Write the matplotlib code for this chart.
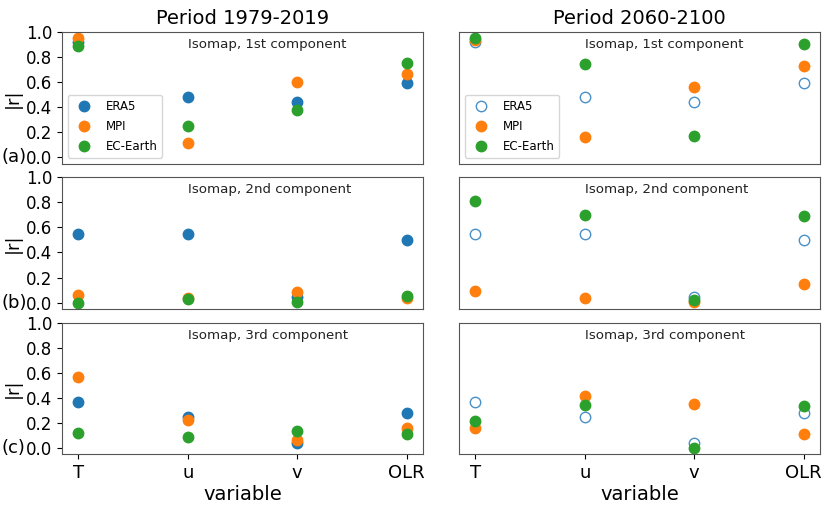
import numpy as np
import matplotlib
matplotlib.use("Agg")
import matplotlib.pyplot as plt

variables = ["T", "u", "v", "OLR"]
periods = ["Period 1979-2019", "Period 2060-2100"]
components = ["Isomap, 1st component", "Isomap, 2nd component", "Isomap, 3rd component"]
panel_tags = ["(a)", "(b)", "(c)"]

# ERA5 is the same in both periods (reanalysis, shown open on the right)
era5 = [
    [0.92, 0.485, 0.44, 0.59],
    [0.55, 0.545, 0.045, 0.50],
    [0.365, 0.245, 0.04, 0.282],
]

# |r| for the historical period
mpi_hist = [
    [0.95, 0.11, 0.60, 0.665],
    [0.06, 0.04, 0.085, 0.035],
    [0.568, 0.225, 0.064, 0.158],
]
ec_hist = [
    [0.885, 0.25, 0.375, 0.75],
    [0.0, 0.028, 0.008, 0.054],
    [0.12, 0.09, 0.131, 0.107],
]

# |r| for the future period
mpi_fut = [
    [0.94, 0.16, 0.563, 0.728],
    [0.091, 0.036, 0.005, 0.147],
    [0.161, 0.416, 0.349, 0.107],
]
ec_fut = [
    [0.955, 0.745, 0.166, 0.907],
    [0.81, 0.697, 0.019, 0.692],
    [0.217, 0.34, 0.0, 0.338],
]

blue, orange, green = "tab:blue", "tab:orange", "tab:green"
ms = 7.5

fig, axes = plt.subplots(3, 2, figsize=(8.3, 5.08), dpi=100, sharey=True)
fig.subplots_adjust(left=0.0747, right=0.988, top=0.937, bottom=0.106,
                    wspace=0.1, hspace=0.105)

x = np.arange(len(variables))
for i in range(3):
    for j in range(2):
        ax = axes[i, j]
        if j == 0:
            ax.plot(x, era5[i], "o", color=blue, ms=ms, label="ERA5")
            ax.plot(x, mpi_hist[i], "o", color=orange, ms=ms, label="MPI")
            ax.plot(x, ec_hist[i], "o", color=green, ms=ms, label="EC-Earth")
        else:
            ax.plot(x, era5[i], "o", mfc="none", mec="#4a90c8", mew=1.0, ms=ms,
                    label="ERA5")
            ax.plot(x, mpi_fut[i], "o", color=orange, ms=ms, label="MPI")
            ax.plot(x, ec_fut[i], "o", color=green, ms=ms, label="EC-Earth")
        ax.set_ylim(-0.05, 1.0)
        ax.set_yticks([0.0, 0.2, 0.4, 0.6, 0.8, 1.0])
        ax.set_xticks(x)
        ax.text(1, 0.9, components[i], ha="left", va="center", fontsize=9.6,
                color="#222222")
        ax.tick_params(labelsize=12)
        if i < 2:
            ax.tick_params(axis="x", labelbottom=False, bottom=False)
        else:
            ax.set_xticklabels(variables, fontsize=13)
            ax.set_xlabel("variable", fontsize=14, labelpad=2)
        if j == 0:
            ax.set_ylabel("|r|", fontsize=13, labelpad=3)
            ax.text(-0.167, 0.0, panel_tags[i], transform=ax.get_yaxis_transform(),
                    ha="left", va="center", fontsize=13)
        else:
            ax.tick_params(axis="y", left=False)
        for s in ax.spines.values():
            s.set_color("#555555")
        if i == 0:
            ax.set_title(periods[j], fontsize=14)
            ax.legend(loc="lower left", fontsize=8.5, labelspacing=0.6)

fig.savefig("out.png", dpi=100)
